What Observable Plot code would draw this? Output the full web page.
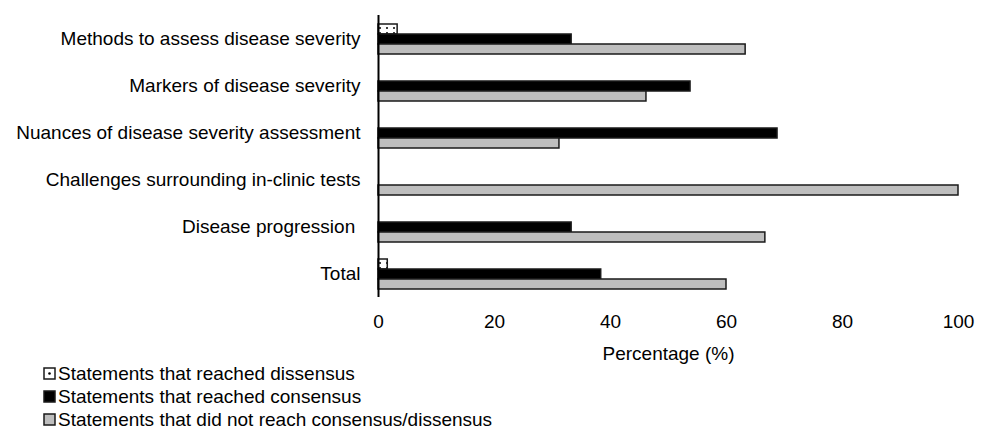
<!DOCTYPE html>
<html>
<head>
<meta charset="utf-8">
<script src="https://cdn.jsdelivr.net/npm/d3@7"></script>
<script src="https://cdn.jsdelivr.net/npm/@observablehq/plot@0.6"></script>
<style>
  html, body { margin: 0; padding: 0; background: #fff; }
  body { font-family: "Liberation Sans", Arial, sans-serif; width: 986px; height: 430px; overflow: hidden; }
  #chart svg { display: block; overflow: visible; }
  #legend { margin-left: 43px; font-size: 19px; line-height: 23px; color: #000; }
  .row { display: flex; align-items: center; white-space: nowrap; height: 23px; }
  .row svg { margin-right: 2px; }
</style>
</head>
<body>
<div id="chart"></div>
<div id="legend"></div>
<script>
const categories = [
  "Methods to assess disease severity",
  "Markers of disease severity",
  "Nuances of disease severity assessment",
  "Challenges surrounding in-clinic tests",
  "Disease progression\u00a0",
  "Total"
];
const dissensus  = [3.3, 0, 0, 0, 0, 1.6];
const consensus  = [33.3, 53.8, 68.8, 0, 33.3, 38.4];
const notReached = [63.3, 46.2, 31.2, 100, 66.7, 60.0];
const seriesKeys = ["dissensus", "consensus", "none"];
const seriesLabels = [
  "Statements that reached dissensus",
  "Statements that reached consensus",
  "Statements that did not reach consensus/dissensus"
];
const xTicks = [0, 20, 40, 60, 80, 100];

const seriesValues = [dissensus, consensus, notReached];
const rows = categories.flatMap((c, i) =>
  seriesKeys.map((s, k) => ({category: c, series: s, value: seriesValues[k][i]}))
);

const fills = ["url(#dots)", "#000000", "#bebebe"];

const chart = Plot.plot({
  width: 986,
  height: 362,
  marginLeft: 378,
  marginRight: 28,
  marginTop: 15,
  marginBottom: 65,
  style: {fontSize: "19px", fontFamily: "'Liberation Sans', Arial, sans-serif", color: "#000", background: "#fff", overflow: "visible"},
  x: {domain: [0, 100]},
  y: {domain: seriesKeys, axis: null, paddingInner: 0, paddingOuter: 0.8},
  fy: {domain: categories, padding: 0, label: null},
  color: {type: "ordinal", domain: seriesKeys, range: fills},
  marks: [
    Plot.barX(rows, {
      filter: d => d.value > 0,
      x: "value", y: "series", fy: "category",
      fill: "series", stroke: "#1a1a1a", strokeWidth: 1.5
    }),
    Plot.ruleX([0], {stroke: "#000", strokeWidth: 2}),
    Plot.axisFy({anchor: "left", tickSize: 0, tickPadding: 18, label: null}),
    Plot.axisX({
      anchor: "bottom", ticks: xTicks, tickSize: 0, tickPadding: 17,
      line: true, label: "Percentage (%)", labelAnchor: "center",
      labelArrow: "none", labelOffset: 62
    })
  ]
});

d3.select(chart).insert("defs", ":first-child").html(
  '<pattern id="dots" patternUnits="userSpaceOnUse" width="7" height="5">' +
  '<rect width="7" height="5" fill="#fff"/>' +
  '<circle cx="2" cy="3" r="1" fill="#000"/></pattern>'
);
d3.select(chart).selectAll("[aria-label='x-axis line'] path, [aria-label='x-axis line'] line").attr("stroke-width", 2);

document.getElementById("chart").appendChild(chart);

const legend = d3.select("#legend");
seriesKeys.forEach((s, k) => {
  const row = legend.append("div").attr("class", "row");
  const sw = row.append("svg").attr("width", 13).attr("height", 13);
  if (k === 0) {
    sw.append("rect").attr("x", 1).attr("y", 1).attr("width", 11).attr("height", 11)
      .attr("fill", "#fff").attr("stroke", "#1a1a1a").attr("stroke-width", 1.5);
    sw.append("circle").attr("cx", 6.5).attr("cy", 6.5).attr("r", 1.3).attr("fill", "#000");
  } else {
    sw.append("rect").attr("x", 1).attr("y", 1).attr("width", 11).attr("height", 11)
      .attr("fill", fills[k]).attr("stroke", "#1a1a1a").attr("stroke-width", 1.5);
  }
  row.append("span").text(seriesLabels[k]);
});
</script>
</body>
</html>
